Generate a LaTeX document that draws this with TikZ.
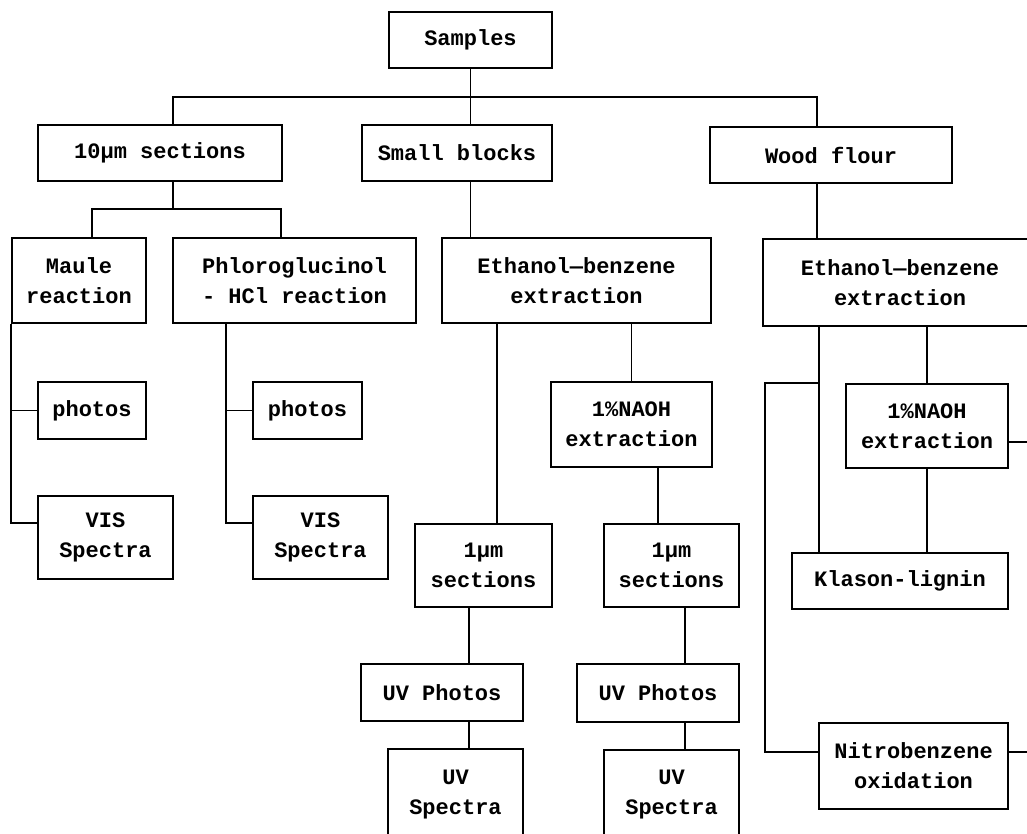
\documentclass[tikz,border=0pt]{standalone}
\usepackage{fontspec}
\setmonofont{Liberation Mono}
\tikzset{
  box/.style={draw, line width=1.8pt, inner sep=0pt, align=center,
    font=\ttfamily\bfseries\fontsize{22}{30}\selectfont},
  wh/.style 2 args={minimum width=#1, minimum height=#2},
  wire/.style={line width=1.8pt}
}

\begin{document}
\begin{tikzpicture}[x=1pt,y=-1pt]
    \useasboundingbox (0,0) rectangle (1027,833);
    \clip (0,0) rectangle (1027,833);

    % Boxes
    \node[box,wh={163}{56}] (samp) at (470.5,40) {Samples};
    \node[box,wh={244}{56}] (tenum) at (160,153) {10μm sections};
    \node[box,wh={190}{56}] (blocks) at (457,153) {Small blocks};
    \node[box,wh={242}{56}] (flour) at (831,155) {Wood flour};

    \node[box,wh={134}{85}] (maule) at (79,280.5) {Maule\\reaction};
    \node[box,wh={243}{85}] (phloro) at (294.5,280.5) {Phloroglucinol\\- HCl reaction};
    \node[box,wh={269}{85}] (ethA) at (576.5,280.5) {Ethanol—benzene\\extraction};
    \node[box,wh={274}{87}] (ethB) at (900,282.5) {Ethanol—benzene\\extraction};

    \node[box,wh={108}{57}] (photosA) at (92,410.5) {photos};
    \node[box,wh={135}{83}] (visA) at (105.5,537.5) {VIS\\Spectra};
    \node[box,wh={109}{57}] (photosB) at (307.5,410.5) {photos};
    \node[box,wh={135}{83}] (visB) at (320.5,537.5) {VIS\\Spectra};

    \node[box,wh={161}{85}] (naohA) at (631.5,424.5) {1\%NAOH\\extraction};
    \node[box,wh={137}{83}] (umA) at (483.5,565.5) {1μm\\sections};
    \node[box,wh={135}{83}] (umB) at (671.5,565.5) {1μm\\sections};
    \node[box,wh={162}{57}] (uvphA) at (442,692.5) {UV Photos};
    \node[box,wh={162}{58}] (uvphB) at (658,693) {UV Photos};
    \node[box,wh={135}{91}] (uvspA) at (455.5,794.5) {UV\\Spectra};
    \node[box,wh={135}{90}] (uvspB) at (671.5,795) {UV\\Spectra};

    \node[box,wh={162}{84}] (naohB) at (927,426) {1\%NAOH\\extraction};
    \node[box,wh={216}{56}] (klason) at (900,581) {Klason-lignin};
    \node[box,wh={189}{86}] (nitro) at (913.5,766) {Nitrobenzene\\oxidation};

    % Top level
    \coordinate (barL) at (173,97);
    \coordinate (barR) at (817,97);
    \coordinate (forkL) at (92,209);
    \coordinate (forkR) at (281,209);
    \draw[wire] (samp.south) -- (samp.south |- blocks.north);
    \draw[wire] (barL |- tenum.north) -- (barL) -- (barR) -- (barR |- flour.north);
    \draw[wire] (barL |- tenum.south) -- (barL |- forkL);
    \draw[wire] (maule.north -| forkL) -- (forkL) -- (forkR) -- (phloro.north -| forkR);
    \draw[wire] (blocks.south -| samp.south) -- (ethA.north -| samp.south);
    \draw[wire] (flour.south -| barR) -- (ethB.north -| barR);

    % 10 um sections
    \coordinate (phx) at (226,0);
    \draw[wire] (maule.south west) |- (photosA.west);
    \draw[wire] (maule.south west) |- ([yshift=14.5pt]visA.west);
    \draw[wire] (phloro.south -| phx) |- (photosB.west);
    \draw[wire] (phloro.south -| phx) |- ([yshift=14.5pt]visB.west);

    % Small blocks
    \coordinate (ex1) at (497,0);
    \coordinate (ex2) at (658,0);
    \coordinate (ex3) at (469,0);
    \coordinate (ex4) at (685,0);
    \draw[wire] (ethA.south -| ex1) -- (umA.north -| ex1);
    \draw[wire] (ethA.south -| naohA.north) -- (naohA.north);
    \draw[wire] (naohA.south -| ex2) -- (umB.north -| ex2);
    \draw[wire] (umA.south -| ex3) -- (uvphA.north -| ex3);
    \draw[wire] (uvphA.south -| ex3) -- (uvspA.north -| ex3);
    \draw[wire] (umB.south -| ex4) -- (uvphB.north -| ex4);
    \draw[wire] (uvphB.south -| ex4) -- (uvspB.north -| ex4);

    % Wood flour
    \coordinate (wx) at (819,0);
    \coordinate (wl) at (765,383);
    \coordinate (outA) at (1035,442);
    \coordinate (outB) at (1035,752);
    \draw[wire] (ethB.south -| wx) -- (klason.north -| wx);
    \draw[wire] (wl -| wx) -- (wl) |- ([yshift=14pt]nitro.west);
    \draw[wire] (ethB.south -| naohB.north) -- (naohB.north);
    \draw[wire] (naohB.south) -- (klason.north -| naohB.south);
    \draw[wire] ([yshift=-16pt]naohB.east) -- (outA);
    \draw[wire] ([yshift=14pt]nitro.east) -- (outB);
\end{tikzpicture}
\end{document}
